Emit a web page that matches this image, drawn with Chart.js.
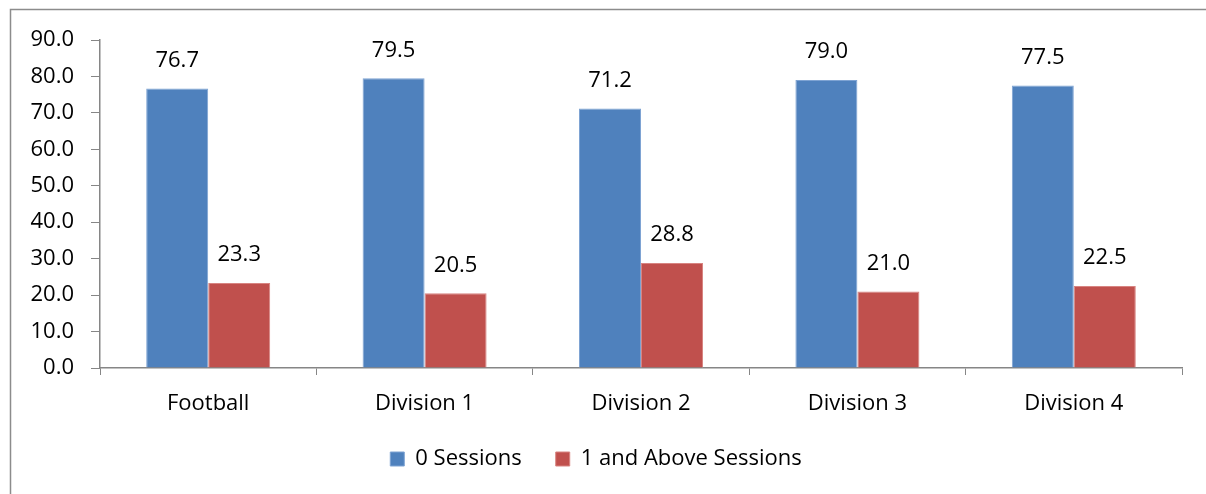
<!DOCTYPE html>
<html>
<head>
<meta charset="utf-8">
<script src="https://cdn.jsdelivr.net/npm/chart.js@4"></script>
<style>
  html, body { margin: 0; padding: 0; background: #fff; }
  #wrap { width: 1206px; height: 494px; position: relative; }
</style>
</head>
<body>
<div id="wrap"><canvas id="chart" width="1206" height="494"></canvas></div>
<script>
const categories = ['Football', 'Division 1', 'Division 2', 'Division 3', 'Division 4'];
const zeroSessions = [76.7, 79.5, 71.2, 79.0, 77.5];
const oneAndAbove = [23.3, 20.5, 28.8, 21.0, 22.5];
const seriesNames = ['0 Sessions', '1 and Above Sessions'];

const FONT = "'Open Sans', 'Noto Sans', sans-serif";
const FONT_SIZE = 22;
const axisGray = '#868686';

// outer frame like the exported Excel chart
const framePlugin = {
  id: 'frame',
  beforeDraw(chart) {
    const ctx = chart.ctx;
    ctx.save();
    ctx.fillStyle = '#fff';
    ctx.fillRect(0, 0, chart.width, chart.height);
    ctx.strokeStyle = '#8c8c8c';
    ctx.lineWidth = 1.5;
    ctx.strokeRect(10.5, 9.5, 1400, 700);
    ctx.restore();
  }
};

// value labels above each bar
const labelPlugin = {
  id: 'valueLabels',
  afterDatasetsDraw(chart) {
    const ctx = chart.ctx;
    ctx.save();
    ctx.font = FONT_SIZE + 'px ' + FONT;
    ctx.fillStyle = '#000';
    ctx.textAlign = 'center';
    ctx.textBaseline = 'middle';
    chart.data.datasets.forEach((ds, i) => {
      chart.getDatasetMeta(i).data.forEach((bar, j) => {
        ctx.fillText(ds.data[j].toFixed(1), bar.x, bar.y - 28);
      });
    });
    ctx.restore();
  }
};

new Chart(document.getElementById('chart'), {
  type: 'bar',
  data: {
    labels: categories,
    datasets: [
      {
        label: seriesNames[0],
        data: zeroSessions,
        backgroundColor: '#4F81BD',
        borderColor: '#7EA3D3',
        borderWidth: 1,
      },
      {
        label: seriesNames[1],
        data: oneAndAbove,
        backgroundColor: '#C0504D',
        borderColor: '#D88481',
        borderWidth: 1,
      },
    ],
  },
  options: {
    responsive: false,
    animation: false,
    layout: { padding: { left: 10, right: 24, top: 40, bottom: 14 } },
    plugins: {
      legend: {
        position: 'bottom',
        labels: {
          font: { family: FONT, size: FONT_SIZE },
          color: '#000',
          boxWidth: 14,
          boxHeight: 14,
          padding: 34,
        },
      },
      tooltip: { enabled: false },
    },
    datasets: {
      bar: { categoryPercentage: 0.573, barPercentage: 1 },
    },
    scales: {
      x: {
        grid: {
          offset: true,
          drawOnChartArea: false,
          tickLength: 7,
          color: axisGray,
        },
        border: { color: axisGray, width: 1.5 },
        ticks: {
          font: { family: FONT, size: FONT_SIZE },
          color: '#000',
          padding: 16,
        },
        afterFit(scale) { scale.height = 46; },
      },
      y: {
        min: 0,
        max: 90,
        grid: {
          drawOnChartArea: false,
          tickLength: 9,
          color: axisGray,
        },
        border: { color: axisGray, width: 1.5 },
        ticks: {
          stepSize: 10,
          font: { family: FONT, size: FONT_SIZE },
          color: '#000',
          padding: 17,
          callback: (v) => v.toFixed(1),
        },
        afterFit(scale) { scale.width = 90; },
      },
    },
  },
  plugins: [framePlugin, labelPlugin],
});
</script>
</body>
</html>
